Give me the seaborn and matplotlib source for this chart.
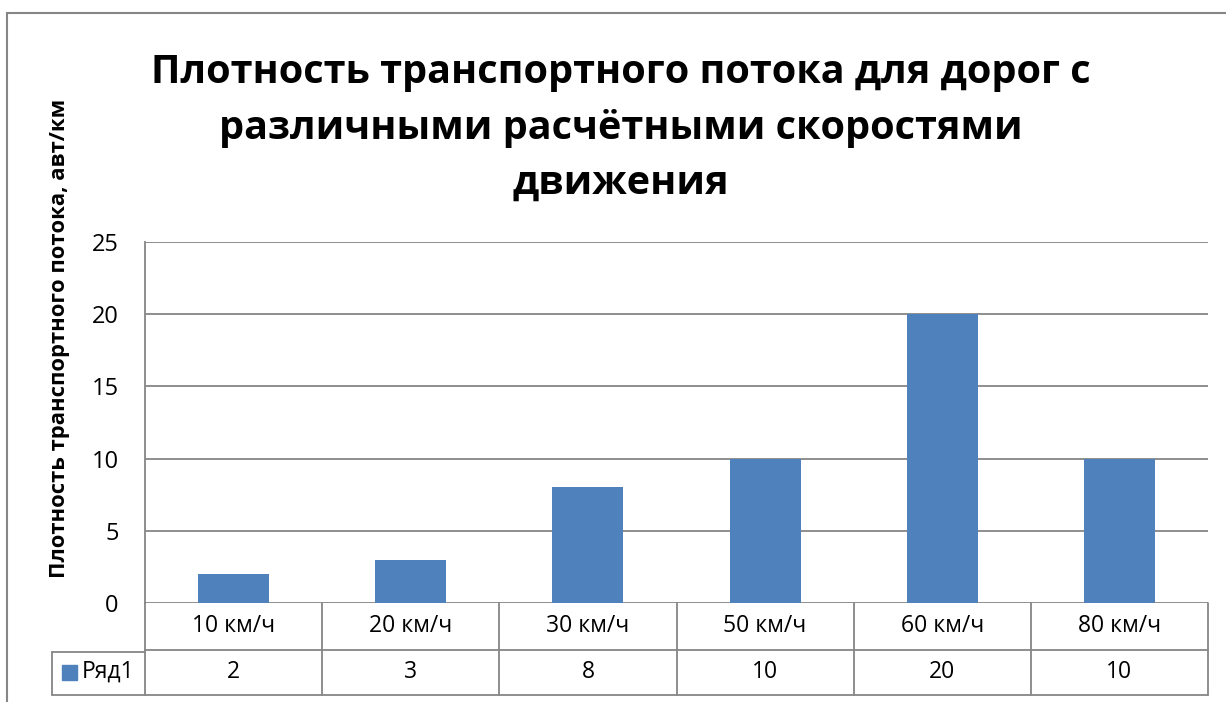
import matplotlib
matplotlib.use("Agg")
import matplotlib.pyplot as plt
import matplotlib.transforms as mtransforms
from matplotlib.patches import Rectangle
import pandas as pd
import seaborn as sns

# data
categories = ["10 км/ч", "20 км/ч", "30 км/ч", "50 км/ч", "60 км/ч", "80 км/ч"]
values = [2, 3, 8, 10, 20, 10]
series_name = "Ряд1"
y_ticks = [0, 5, 10, 15, 20, 25]
title = "Плотность транспортного потока для дорог с\nразличными расчётными скоростями\nдвижения"
y_label = "Плотность транспортного потока, авт/км"

bar_color = "#4F81BD"
line_color = "#868686"

sns.set_theme(style="white")
plt.rcParams["font.family"] = ["Open Sans", "DejaVu Sans"]
plt.rcParams["text.color"] = "black"
plt.rcParams["ytick.color"] = "black"

df = pd.DataFrame({"speed": categories, "density": values})

fig = plt.figure(figsize=(12.26, 7.02), dpi=100)
ax = fig.add_axes([145 / 1226, 99 / 702, (1208 - 145) / 1226, 361 / 702])

sns.barplot(data=df, x="speed", y="density", color=bar_color, saturation=1,
            width=0.4, linewidth=0, ax=ax, zorder=3)

ax.set_ylim(0, 25)
ax.set_xlim(-0.5, len(categories) - 0.5)
ax.set_yticks(y_ticks)
ax.set_yticklabels([str(t) for t in y_ticks], fontsize=17)
ax.tick_params(axis="y", length=0, pad=19)
ax.set_xticks([])
ax.set_xlabel("")
ax.set_ylabel("")
for t in y_ticks:
    ax.axhline(t, color=line_color, lw=1.3, zorder=1)
for side in ["top", "right", "bottom"]:
    ax.spines[side].set_visible(False)
ax.spines["left"].set_color(line_color)
ax.spines["left"].set_linewidth(1.3)

# data table under the axis
trans = mtransforms.blended_transform_factory(ax.transData, ax.transAxes)
row1 = -47 / 361
row2 = -92 / 361
n = len(categories)
kw = dict(color=line_color, lw=1.3, clip_on=False, transform=trans)
for i in range(n + 1):
    ax.plot([i - 0.5, i - 0.5], [0, row2], **kw)
ax.plot([-0.5, n - 0.5], [row1, row1], **kw)
ax.plot([-0.5, n - 0.5], [row2, row2], **kw)
for i, (cat, val) in enumerate(zip(categories, values)):
    ax.text(i, row1 / 2, cat, ha="center", va="center", fontsize=16.5,
            transform=trans)
    ax.text(i, (row1 + row2) / 2, str(val), ha="center", va="center",
            fontsize=16.5, transform=trans)

# legend cell on the left of the table
fx = fig.transFigure
x0, x1 = 52 / 1226, 145 / 1226
yt, yb = 1 - 652 / 702, 1 - 695 / 702
fig.add_artist(plt.Line2D([x0, x1], [yt, yt], color=line_color, lw=1.3, transform=fx))
fig.add_artist(plt.Line2D([x0, x1], [yb, yb], color=line_color, lw=1.3, transform=fx))
fig.add_artist(plt.Line2D([x0, x0], [yt, yb], color=line_color, lw=1.3, transform=fx))
fig.add_artist(Rectangle((62 / 1226, 1 - 680 / 702), 15 / 1226, 15 / 702,
                         color=bar_color, transform=fx))
fig.text(82 / 1226, 1 - 672 / 702, series_name, ha="left", va="center", fontsize=16.5)

# title and y label
fig.text(621 / 1226, 1 - 128 / 702, title, ha="center", va="center",
         fontsize=28.5, fontweight="bold", linespacing=1.55)
fig.text(60 / 1226, 1 - 338 / 702, y_label, ha="center", va="center",
         rotation=90, fontsize=15.8, fontweight="bold")

# outer chart border
fig.add_artist(Rectangle((7 / 1226, -0.05), 1.1, 1 - 13 / 702 + 0.05, fill=False,
                         edgecolor=line_color, lw=1.5, transform=fx))

fig.savefig("out.png", dpi=100)
